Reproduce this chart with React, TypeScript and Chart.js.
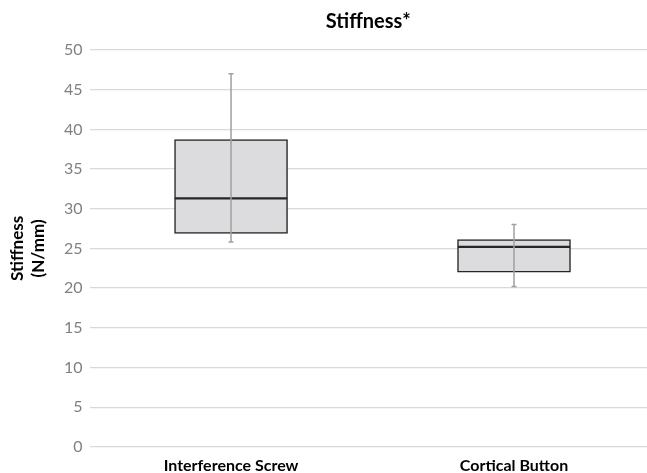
import React, { useEffect, useRef } from "react";
import { Chart, registerables } from "chart.js";

Chart.register(...registerables);

const categories = ["Interference Screw", "Cortical Button"];
const whiskerMin = [25.8, 20.2];
const q1 = [26.9, 22.0];
const median = [31.3, 25.2];
const q3 = [38.7, 26.1];
const whiskerMax = [47.0, 28.0];
const yTicks = [0, 5, 10, 15, 20, 25, 30, 35, 40, 45, 50];

const FONT = "Lato, 'Open Sans', sans-serif";

const whiskerPlugin = {
  id: "whiskers",
  afterDatasetsDraw(chart: any) {
    const { ctx, scales } = chart;
    const x = scales.x;
    const y = scales.y;
    ctx.save();
    ctx.strokeStyle = "#a0a0a0";
    ctx.lineWidth = 1.5;
    categories.forEach((_, i) => {
      const px = x.getPixelForValue(i);
      const top = y.getPixelForValue(whiskerMax[i]);
      const bot = y.getPixelForValue(whiskerMin[i]);
      ctx.beginPath();
      ctx.moveTo(px, top);
      ctx.lineTo(px, bot);
      ctx.moveTo(px - 2.5, top);
      ctx.lineTo(px + 2.5, top);
      ctx.moveTo(px - 2.5, bot);
      ctx.lineTo(px + 2.5, bot);
      ctx.stroke();
    });
    ctx.restore();
  },
};

export default function App() {
  const ref = useRef<HTMLCanvasElement>(null);
  useEffect(() => {
    if (!ref.current) return;
    const boxStyle = {
      backgroundColor: "#dcdcde",
      borderColor: "#262626",
      borderWidth: 1.5,
      borderSkipped: false,
      barThickness: 113,
      grouped: false,
    };
    const chart = new Chart(ref.current, {
      type: "bar",
      data: {
        datasets: [
          {
            ...boxStyle,
            data: categories.map((_, i) => ({ x: i, y: [q1[i], median[i]] })),
          } as any,
          {
            ...boxStyle,
            data: categories.map((_, i) => ({ x: i, y: [median[i], q3[i]] })),
          } as any,
        ],
      },
      options: {
        animation: false,
        responsive: true,
        maintainAspectRatio: false,
        layout: { padding: { top: 0, right: 0, left: 0, bottom: -11 } },
        plugins: {
          legend: { display: false },
          tooltip: { enabled: false },
          title: { display: false },
        },
        scales: {
          x: {
            type: "linear",
            offset: false,
            min: -0.5,
            max: 1.47,
            grid: { display: false, drawTicks: false },
            border: { display: false },
            afterBuildTicks: (axis: any) => {
              axis.ticks = categories.map((_, i) => ({ value: i }));
            },
            ticks: {
              autoSkip: false,
              maxRotation: 0,
              padding: 9,
              color: "#000",
              font: { family: FONT, size: 16, weight: "bold" },
              callback: (v: any) => categories[v as number] ?? "",
            },
          },
          xTop: {
            type: "linear",
            position: "top",
            offset: false,
            min: 0,
            max: 1,
            grid: { display: false, drawTicks: false },
            border: { display: false },
            ticks: { display: false },
            title: {
              display: true,
              text: "Stiffness*",
              color: "#000",
              font: { family: FONT, size: 20, weight: "bold", lineHeight: 1.2 },
              padding: { top: 10, bottom: 16 },
            },
          },
          y: {
            min: 0,
            max: 50,
            afterBuildTicks: (axis: any) => {
              axis.ticks = yTicks.map((v) => ({ value: v }));
            },
            grid: { color: "#d9d9d9", lineWidth: 1.2, drawTicks: false },
            border: { display: false },
            ticks: {
              color: "#808080",
              padding: 7,
              font: { family: FONT, size: 16 },
            },
            title: {
              display: true,
              text: ["Stiffness", "(N/mm)"],
              color: "#000",
              font: { family: FONT, size: 17, weight: "bold", lineHeight: 1.235 },
              padding: { top: 7, bottom: 8 },
            },
          },
        },
      } as any,
      plugins: [whiskerPlugin],
    });
    return () => chart.destroy();
  }, []);
  return (
    <div style={{ position: "fixed", left: 0, top: 0, width: 647, height: 473, background: "#fff" }}>
      <canvas ref={ref} />
    </div>
  );
}
